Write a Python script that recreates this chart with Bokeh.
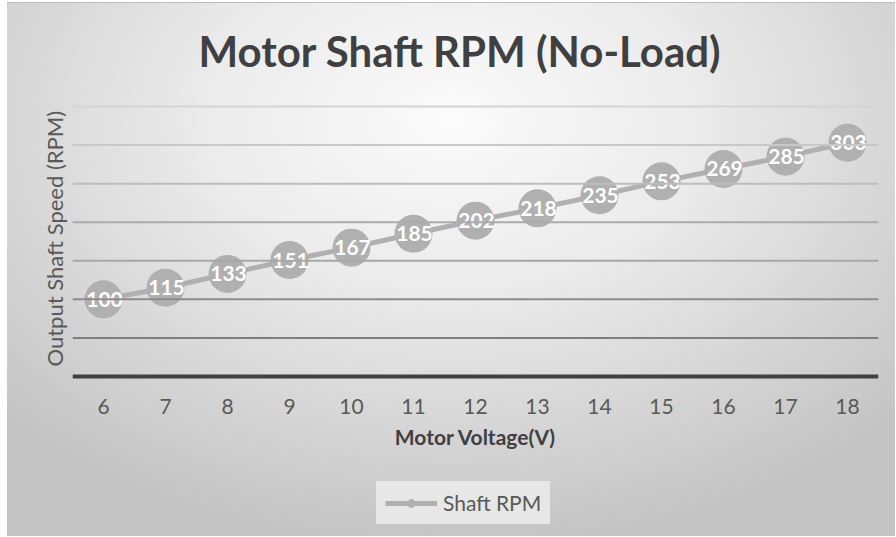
from bokeh.plotting import figure
from bokeh.models import (Range1d, FixedTicker, Span, Legend, LegendItem, ColumnDataSource,
                          LinearAxis, Title)
from bokeh.core.properties import value
from bokeh.embed import file_html
from bokeh.resources import INLINE

# ---- data ----
voltage = [6, 7, 8, 9, 10, 11, 12, 13, 14, 15, 16, 17, 18]
shaft_rpm = [100, 115, 133, 151, 167, 185, 202, 218, 235, 253, 269, 285, 303]
y_ticks = [0, 50, 100, 150, 200, 250, 300, 350]

title_text = "Motor Shaft RPM (No-Load)"
x_title = "Motor Voltage(V)"
y_title = "Output Shaft Speed (RPM)"
series_name = "Shaft RPM"

FONT = "Lato"

# ---- layout (pixels) ----
PLOT_H = 270                      # height of the 0..350 value band
PX_PER_UNIT = PLOT_H / (y_ticks[-1] - y_ticks[0])
ABOVE_PAD = 26                    # frame extends this far above the top gridline
BELOW_PAD = 160                   # frame extends this far below the x axis (axis labels + legend)

src = ColumnDataSource(dict(x=voltage, y=shaft_rpm, label=[str(v) for v in shaft_rpm]))

p = figure(frame_width=806, frame_height=PLOT_H + ABOVE_PAD + BELOW_PAD,
           output_backend="svg", toolbar_location=None,
           x_range=Range1d(voltage[0] - 0.5, voltage[-1] + 0.5),
           y_range=Range1d(y_ticks[0] - BELOW_PAD / PX_PER_UNIT,
                           y_ticks[-1] + ABOVE_PAD / PX_PER_UNIT),
           x_axis_location=None, y_axis_location=None,
           min_border_left=65, min_border_right=17, min_border_top=77,
           min_border_bottom=0)

p.styles = {
    "background": "radial-gradient(ellipse 70% 80% at 50% 22%, #fbfbfb 0%, #ebebeb 40%, #d4d4d4 75%, #c4c4c4 100%)",
    "border-top": "1px solid #bcbcbc",
    "margin-top": "2px",
    "margin-left": "7px",
}
p.background_fill_alpha = 0
p.border_fill_alpha = 0
p.outline_line_color = None
p.grid.visible = False

# title
p.title.text = title_text
p.title.align = "left"
p.title.offset = 126
p.title.standoff = 10
p.title.text_font = FONT
p.title.text_font_style = "bold"
p.title.text_font_size = "42px"
p.title.text_color = "#404040"

# vertical axis title, centred on the 0..350 band
p.add_layout(Title(text=y_title, align="left", offset=BELOW_PAD + 10, standoff=10,
                   text_font=FONT, text_font_style="normal", text_font_size="22px",
                   text_color="#595959"), "left")

# grid lines (graded grey, as in the reference)
grid_colors = {50: "#7f7f7f", 100: "#8c8c8c", 150: "#a7a7a7", 200: "#ababab",
               250: "#bdbdbd", 300: "#c8c8c8", 350: "#d4d4d4"}
for t in y_ticks[1:]:
    p.add_layout(Span(location=t, dimension="width", line_color=grid_colors[t], line_width=2))

# x axis, drawn at y = 0
xa = LinearAxis(ticker=FixedTicker(ticks=voltage), fixed_location=y_ticks[0])
xa.major_tick_line_color = None
xa.minor_tick_line_color = None
xa.axis_line_color = "#404040"
xa.axis_line_width = 4
xa.major_label_text_font = FONT
xa.major_label_text_font_size = "21px"
xa.major_label_text_color = "#595959"
xa.major_label_standoff = 16
xa.axis_label = x_title
xa.axis_label_text_font = FONT
xa.axis_label_text_font_style = "bold"
xa.axis_label_text_font_size = "21px"
xa.axis_label_text_color = "#404040"
xa.axis_label_standoff = 7
p.add_layout(xa, "below")

# series
line_r = p.line("x", "y", source=src, line_color="#b0b0b0", line_width=5)
circ_r = p.scatter("x", "y", source=src, size=38, fill_color="#b0b0b0", line_color=None)
p.text("x", "y", text="label", source=src, text_align="center", text_baseline="middle",
       text_color="white", text_font=value(FONT), text_font_style="bold",
       text_font_size="21px", x_offset=1)

legend = Legend(items=[LegendItem(label=series_name, renderers=[line_r, circ_r])],
                location=(304, 12), orientation="horizontal",
                background_fill_color="#ececec", background_fill_alpha=0.85,
                border_line_color="#ececec", border_line_alpha=0.0,
                label_text_font=FONT,
                label_text_font_size="21px", label_text_color="#595959",
                glyph_width=52, glyph_height=22, label_standoff=6,
                padding=9, margin=0)
p.add_layout(legend, "center")

open("out.html", "w").write(file_html(p, INLINE))
